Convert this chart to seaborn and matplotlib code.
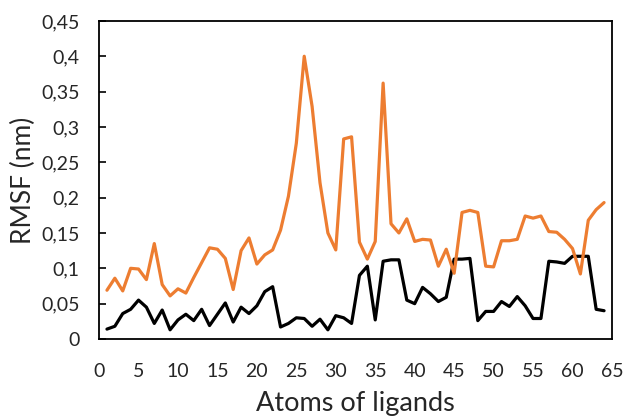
import numpy as np
import pandas as pd
import matplotlib
matplotlib.use("Agg")
import matplotlib.pyplot as plt
from matplotlib.ticker import FuncFormatter, MultipleLocator
import seaborn as sns

# Ligand atom index
atoms = list(range(1, 65))

# RMSF per atom (nm), free ligand (orange)
rmsf_orange = [
    0.069, 0.086, 0.068, 0.100, 0.099, 0.084, 0.135, 0.077, 0.061, 0.071,
    0.065, 0.087, 0.108, 0.129, 0.127, 0.114, 0.070, 0.125, 0.143, 0.106,
    0.119, 0.126, 0.154, 0.202, 0.277, 0.400, 0.329, 0.221, 0.150, 0.126,
    0.283, 0.286, 0.137, 0.113, 0.138, 0.362, 0.163, 0.150, 0.170, 0.138,
    0.141, 0.140, 0.103, 0.127, 0.093, 0.179, 0.182, 0.179, 0.103, 0.102,
    0.139, 0.139, 0.141, 0.174, 0.171, 0.174, 0.152, 0.151, 0.141, 0.128,
    0.092, 0.168, 0.183, 0.193,
]

# RMSF per atom (nm), bound ligand (black)
rmsf_black = [
    0.014, 0.018, 0.036, 0.042, 0.055, 0.045, 0.022, 0.041, 0.013, 0.027,
    0.035, 0.026, 0.042, 0.019, 0.035, 0.051, 0.024, 0.045, 0.036, 0.047,
    0.067, 0.074, 0.017, 0.022, 0.030, 0.029, 0.018, 0.028, 0.013, 0.033,
    0.030, 0.022, 0.090, 0.103, 0.027, 0.110, 0.112, 0.112, 0.055, 0.050,
    0.073, 0.064, 0.053, 0.059, 0.113, 0.113, 0.114, 0.026, 0.039, 0.039,
    0.053, 0.046, 0.060, 0.047, 0.029, 0.029, 0.110, 0.109, 0.107, 0.117,
    0.117, 0.117, 0.042, 0.040,
]

df = pd.DataFrame({"atom": atoms, "orange": rmsf_orange, "black": rmsf_black})

sns.set_style("white")
plt.rcParams["font.family"] = ["Lato", "DejaVu Sans"]

fig = plt.figure(figsize=(6.27, 4.18), dpi=100)
ax = fig.add_axes([0.158, 0.189, 0.818, 0.761])

sns.lineplot(data=df, x="atom", y="black", color="black", linewidth=2.3, ax=ax)
sns.lineplot(data=df, x="atom", y="orange", color="#ED7D31", linewidth=2.3, ax=ax)

ax.set_xlim(0, 65)
ax.set_ylim(0, 0.45)
ax.xaxis.set_major_locator(MultipleLocator(5))
ax.yaxis.set_major_locator(MultipleLocator(0.05))

def comma_fmt(v, pos):
    return f"{round(v, 2):g}".replace(".", ",")

ax.yaxis.set_major_formatter(FuncFormatter(comma_fmt))
ax.xaxis.set_major_formatter(FuncFormatter(lambda v, p: f"{v:g}"))

for side in ("left", "right", "top", "bottom"):
    ax.spines[side].set_visible(True)
    ax.spines[side].set_color("black")
    ax.spines[side].set_linewidth(1.3)

ax.tick_params(axis="y", direction="in", length=5, width=1.2, color="black",
               left=True, labelsize=14, pad=14)
ax.tick_params(axis="x", length=0, labelsize=14, pad=17)

ax.set_xlabel("Atoms of ligands", fontsize=19.5, labelpad=8)
ax.set_ylabel("RMSF (nm)", fontsize=19, labelpad=4)

fig.savefig("out.png", dpi=100)
